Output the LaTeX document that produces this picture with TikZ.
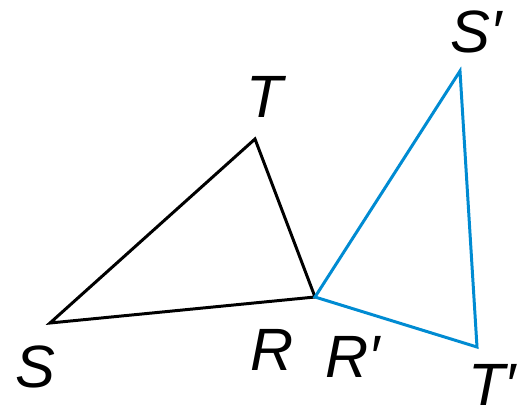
\documentclass[tikz,border=0pt]{standalone}
\usepackage{fontspec}
\setmainfont{Liberation Sans}
\usepackage{tikz}

\definecolor{imgblue}{RGB}{0,139,210}

\tikzset{
  side/.style={line width=1.7pt, line join=miter},
  vlabel/.style={anchor=base, inner sep=0pt, font=\fontsize{34}{40}\selectfont\itshape}
}

\begin{document}
\begin{tikzpicture}[x=0.02cm, y=-0.02cm]
  \useasboundingbox (0,0) rectangle (525,414);

  % Vertices of the two triangles
  \coordinate (S) at (50,323);
  \coordinate (T) at (255,139);
  \coordinate (R) at (315,297);
  \coordinate (Sp) at (460,71);
  \coordinate (Tp) at (477,347);

  % Triangle STR
  \draw[side, black] (S) -- (T) -- (R) -- cycle;

  % Image triangle S'T'R'
  \draw[side, imgblue] (R) -- (Sp) -- (Tp) -- cycle;

  % Vertex labels
  \node[vlabel] (lS) at (35,387) {S};
  \node[vlabel] (lT) at (265,117) {T};
  \node[vlabel] (lR) at (272,370) {R};
  \node[vlabel] (lRp) at (353,377) {R′};
  \node[vlabel] (lSp) at (476,52) {S′};
  \node[vlabel] (lTp) at (492,405) {T′};
\end{tikzpicture}
\end{document}
